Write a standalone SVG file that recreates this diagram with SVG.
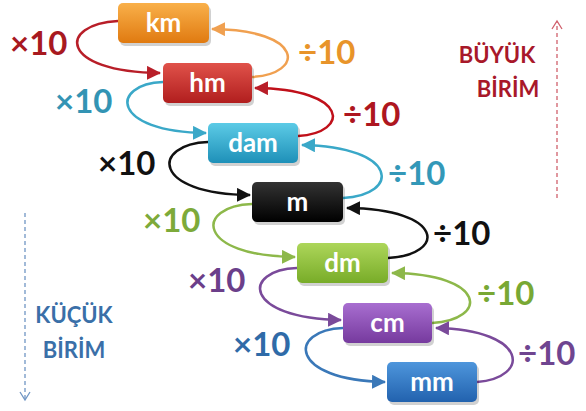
<svg xmlns="http://www.w3.org/2000/svg" width="586" height="411" viewBox="0 0 586 411">
<style>
.box text{font-family:Lato,"Liberation Sans",sans-serif;font-weight:bold;font-size:26px;fill:#fff;text-anchor:middle}
.lbl{font-family:Lato,"Liberation Sans",sans-serif;font-weight:bold;font-size:33px}
.side{font-family:Lato,"Liberation Sans",sans-serif;font-weight:bold;font-size:22px;text-anchor:middle}
.c path{fill:none;stroke-width:2.5}
.sh{fill:#000;opacity:0.18}
</style>
<defs>
<linearGradient id="gKm" x1="0" y1="0" x2="0" y2="1"><stop offset="0" stop-color="#F9B04A"/><stop offset="1" stop-color="#E07A10"/></linearGradient>
<linearGradient id="gHm" x1="0" y1="0" x2="0" y2="1"><stop offset="0" stop-color="#E0524A"/><stop offset="1" stop-color="#B11E1E"/></linearGradient>
<linearGradient id="gDam" x1="0" y1="0" x2="0" y2="1"><stop offset="0" stop-color="#5CCBE6"/><stop offset="1" stop-color="#1E90B8"/></linearGradient>
<linearGradient id="gM" x1="0" y1="0" x2="0" y2="1"><stop offset="0" stop-color="#333"/><stop offset="1" stop-color="#000"/></linearGradient>
<linearGradient id="gDm" x1="0" y1="0" x2="0" y2="1"><stop offset="0" stop-color="#ADD65A"/><stop offset="1" stop-color="#78AC28"/></linearGradient>
<linearGradient id="gCm" x1="0" y1="0" x2="0" y2="1"><stop offset="0" stop-color="#A86ED0"/><stop offset="1" stop-color="#763A9E"/></linearGradient>
<linearGradient id="gMm" x1="0" y1="0" x2="0" y2="1"><stop offset="0" stop-color="#4E96DC"/><stop offset="1" stop-color="#2262AE"/></linearGradient>
<marker id="aRed" markerUnits="userSpaceOnUse" markerWidth="14" markerHeight="14" refX="13" refY="7" orient="auto"><path d="M0,0 L14,7 L0,14 z" fill="#B81E28"/></marker>
<marker id="aOr" markerUnits="userSpaceOnUse" markerWidth="14" markerHeight="14" refX="13" refY="7" orient="auto"><path d="M0,0 L14,7 L0,14 z" fill="#F0A050"/></marker>
<marker id="aCy" markerUnits="userSpaceOnUse" markerWidth="14" markerHeight="14" refX="13" refY="7" orient="auto"><path d="M0,0 L14,7 L0,14 z" fill="#3AA8C8"/></marker>
<marker id="aBk" markerUnits="userSpaceOnUse" markerWidth="14" markerHeight="14" refX="13" refY="7" orient="auto"><path d="M0,0 L14,7 L0,14 z" fill="#111"/></marker>
<marker id="aGr" markerUnits="userSpaceOnUse" markerWidth="14" markerHeight="14" refX="13" refY="7" orient="auto"><path d="M0,0 L14,7 L0,14 z" fill="#8DB84A"/></marker>
<marker id="aPu" markerUnits="userSpaceOnUse" markerWidth="14" markerHeight="14" refX="13" refY="7" orient="auto"><path d="M0,0 L14,7 L0,14 z" fill="#7A4A9A"/></marker>
<marker id="aBl" markerUnits="userSpaceOnUse" markerWidth="14" markerHeight="14" refX="13" refY="7" orient="auto"><path d="M0,0 L14,7 L0,14 z" fill="#3A78B8"/></marker>
</defs>
<rect width="586" height="411" fill="#fff"/>

<g id="connectors" class="c">
<path d="M118,21 C58,24 58,72 160,73" stroke="#B81E28" marker-end="url(#aRed)"/>
<path d="M252,77 C305,74 305,30 212,29" stroke="#F0A050" marker-end="url(#aOr)"/>
<path d="M163,82 C110,84 110,132 206,133" stroke="#3AA8C8" marker-end="url(#aCy)"/>
<path d="M298,136 C350,133 350,89 255,88" stroke="#C0101A" marker-end="url(#aRed)"/>
<path d="M208,142 C152,144 150,194 250,195" stroke="#111" marker-end="url(#aBk)"/>
<path d="M343,198 C400,195 400,147 302,145" stroke="#3AA8C8" marker-end="url(#aCy)"/>
<path d="M252,204 C195,206 195,256 295,257" stroke="#8DB84A" marker-end="url(#aGr)"/>
<path d="M388,258 C446,255 446,209 347,208" stroke="#111" marker-end="url(#aBk)"/>
<path d="M297,268 C242,270 242,318 341,320" stroke="#7A4A9A" marker-end="url(#aPu)"/>
<path d="M432,323 C488,320 488,274 392,273" stroke="#8DB84A" marker-end="url(#aGr)"/>
<path d="M343,328 C288,330 288,380 385,382" stroke="#3A78B8" marker-end="url(#aBl)"/>
<path d="M477,382 C530,378 530,330 436,328" stroke="#7A4A9A" marker-end="url(#aPu)"/>
</g>

<g id="km" class="box"><rect class="sh" x="120" y="6" width="91" height="40" rx="5"/><rect x="118" y="3" width="91" height="40" rx="5" fill="url(#gKm)"/><text x="163.5" y="32">km</text></g>
<g id="hm" class="box"><rect class="sh" x="165" y="66" width="89" height="40" rx="5"/><rect x="163" y="63" width="89" height="40" rx="5" fill="url(#gHm)"/><text x="207.5" y="92">hm</text></g>
<g id="dam" class="box"><rect class="sh" x="210" y="126" width="90" height="40" rx="5"/><rect x="208" y="123" width="90" height="40" rx="5" fill="url(#gDam)"/><text x="253" y="152">dam</text></g>
<g id="m" class="box"><rect class="sh" x="254" y="185" width="91" height="40" rx="5"/><rect x="252" y="182" width="91" height="40" rx="5" fill="url(#gM)"/><text x="297.5" y="211">m</text></g>
<g id="dm" class="box"><rect class="sh" x="299" y="246" width="91" height="40" rx="5"/><rect x="297" y="243" width="91" height="40" rx="5" fill="url(#gDm)"/><text x="342.5" y="272">dm</text></g>
<g id="cm" class="box"><rect class="sh" x="345" y="306" width="89" height="40" rx="5"/><rect x="343" y="303" width="89" height="40" rx="5" fill="url(#gCm)"/><text x="387.5" y="332">cm</text></g>
<g id="mm" class="box"><rect class="sh" x="389" y="365" width="90" height="40" rx="5"/><rect x="387" y="362" width="90" height="40" rx="5" fill="url(#gMm)"/><text x="432" y="391">mm</text></g>

<g id="labels">
<text class="lbl" x="10" y="55" fill="#A8191F">×10</text>
<text class="lbl" x="298" y="64" fill="#E8942A">÷10</text>
<text class="lbl" x="55" y="113" fill="#3394B4">×10</text>
<text class="lbl" x="343" y="126" fill="#AE1620">÷10</text>
<text class="lbl" x="98" y="175" fill="#111">×10</text>
<text class="lbl" x="388" y="185" fill="#3398B8">÷10</text>
<text class="lbl" x="143" y="232" fill="#7DAA3A">×10</text>
<text class="lbl" x="433" y="245" fill="#111">÷10</text>
<text class="lbl" x="188" y="292" fill="#6B3F8A">×10</text>
<text class="lbl" x="477" y="305" fill="#78A834">÷10</text>
<text class="lbl" x="233" y="356" fill="#2F6BA8">×10</text>
<text class="lbl" x="518" y="365" fill="#6F4590">÷10</text>
</g>

<g id="buyuk">
<text class="side" x="497" y="63" fill="#A8182A">BÜYÜK</text>
<text class="side" x="508" y="97" fill="#A8182A">BİRİM</text>
<path d="M557,198 L557,22" stroke="#D0606C" stroke-width="1.3" stroke-dasharray="4,3" fill="none"/>
<path d="M552,29 L557,21 L562,29" stroke="#D0606C" stroke-width="1.3" fill="none"/>
</g>
<g id="kucuk">
<text class="side" x="74" y="323" fill="#3A6FA8">KÜÇÜK</text>
<text class="side" x="74" y="358" fill="#3A6FA8">BİRİM</text>
<path d="M25,213 L25,399" stroke="#7096C4" stroke-width="1.3" stroke-dasharray="4,3" fill="none"/>
<path d="M20,392 L25,400 L30,392" stroke="#7096C4" stroke-width="1.3" fill="none"/>
</g>
</svg>
